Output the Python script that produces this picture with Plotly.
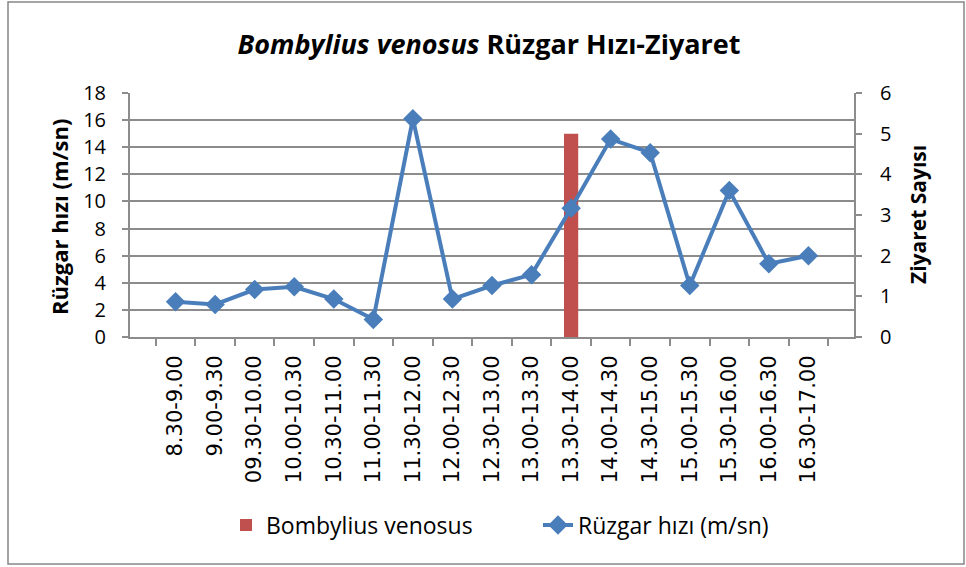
import plotly.graph_objects as go

# Half-hour observation windows
time_slots = ["8.30-9.00", "9.00-9.30", "09.30-10.00", "10.00-10.30", "10.30-11.00",
              "11.00-11.30", "11.30-12.00", "12.00-12.30", "12.30-13.00", "13.00-13.30",
              "13.30-14.00", "14.00-14.30", "14.30-15.00", "15.00-15.30", "15.30-16.00",
              "16.00-16.30", "16.30-17.00"]

# Wind speed (m/sn) per window
wind_speed = [2.6, 2.4, 3.5, 3.7, 2.8, 1.3, 16.1, 2.8, 3.8, 4.6, 9.5, 14.6, 13.6,
              3.8, 10.8, 5.4, 6.0]

# Visit counts of Bombylius venosus per window
visits = [0, 0, 0, 0, 0, 0, 0, 0, 0, 0, 5, 0, 0, 0, 0, 0, 0]

left_ticks = [0, 2, 4, 6, 8, 10, 12, 14, 16, 18]
right_ticks = [0, 1, 2, 3, 4, 5, 6]

GRID = "#8c8c8c"
FONT = "Open Sans"

fig = go.Figure()

# Visits on the primary axis so the wind line is painted above the bar
fig.add_trace(go.Bar(
    x=time_slots, y=visits, name="Bombylius venosus",
    marker=dict(color="#C0504D", line=dict(width=0)),
    width=0.36, yaxis="y",
))

fig.add_trace(go.Scatter(
    x=time_slots, y=wind_speed, name="Rüzgar hızı (m/sn)",
    mode="lines+markers",
    line=dict(color="#4A7EBB", width=4),
    marker=dict(symbol="diamond", size=15, color="#4A7EBB"),
    yaxis="y2",
))

W, H = 966, 567
L, R, T, B = 130, 112, 93, 230
pw, ph = W - L - R, H - T - B


def px_x(p):
    return (p - L) / pw


def px_y(p):
    return (H - B - p) / ph


fig.update_layout(
    width=W, height=H,
    margin=dict(l=L, r=R, t=T, b=B),
    paper_bgcolor="white", plot_bgcolor="white",
    font=dict(family=FONT, size=18, color="black"),
    title=dict(
        text="<b><i>Bombylius venosus</i> Rüzgar Hızı-Ziyaret</b>",
        x=489 / W, xanchor="center", y=1 - 45 / H, yanchor="middle",
        font=dict(family=FONT, size=27, color="black"),
    ),
    showlegend=True,
    legend=dict(
        orientation="h", x=px_x(226), xanchor="left",
        y=px_y(525), yanchor="middle",
        font=dict(family=FONT, size=23),
        entrywidth=267, entrywidthmode="pixels",
        traceorder="normal",
    ),
    xaxis=dict(
        type="category", tickangle=-90,
        tickfont=dict(family="DejaVu Sans", size=21),
        ticklabelstandoff=8,
        showline=True, linecolor=GRID, linewidth=2,
        ticks="outside", tickson="boundaries", ticklen=7, tickcolor=GRID, tickwidth=2,
        showgrid=False, mirror=False,
    ),
    yaxis=dict(
        side="right", range=[0, 6], tickvals=right_ticks,
        showgrid=False, zeroline=False,
        showline=True, linecolor=GRID, linewidth=2,
        ticks="outside", ticklen=6, tickcolor=GRID, tickwidth=2,
        ticklabelstandoff=14,
        tickfont=dict(family=FONT, size=20),
    ),
    yaxis2=dict(
        overlaying="y", side="left", range=[0, 18], tickvals=left_ticks,
        showgrid=True, gridcolor=GRID, gridwidth=2, zeroline=False,
        showline=True, linecolor=GRID, linewidth=2,
        ticks="outside", ticklen=6, tickcolor=GRID, tickwidth=2,
        ticklabelstandoff=12,
        tickfont=dict(family=FONT, size=20),
    ),
    annotations=[
        dict(text="<b>Rüzgar hızı (m/sn)</b>", xref="paper", yref="paper",
             x=px_x(59), y=px_y(217), textangle=-90, showarrow=False,
             xanchor="center", yanchor="middle", font=dict(family=FONT, size=22)),
        dict(text="<b>Ziyaret Sayısı</b>", xref="paper", yref="paper",
             x=px_x(918), y=px_y(215), textangle=-90, showarrow=False,
             xanchor="center", yanchor="middle", font=dict(family=FONT, size=21)),
    ],
    shapes=[
        dict(type="rect", xref="paper", yref="paper",
             x0=px_x(8), x1=px_x(964), y0=px_y(564), y1=px_y(2),
             line=dict(color="#868686", width=1.5), fillcolor="rgba(0,0,0,0)",
             layer="below"),
    ],
)

fig.write_html("out.html")
